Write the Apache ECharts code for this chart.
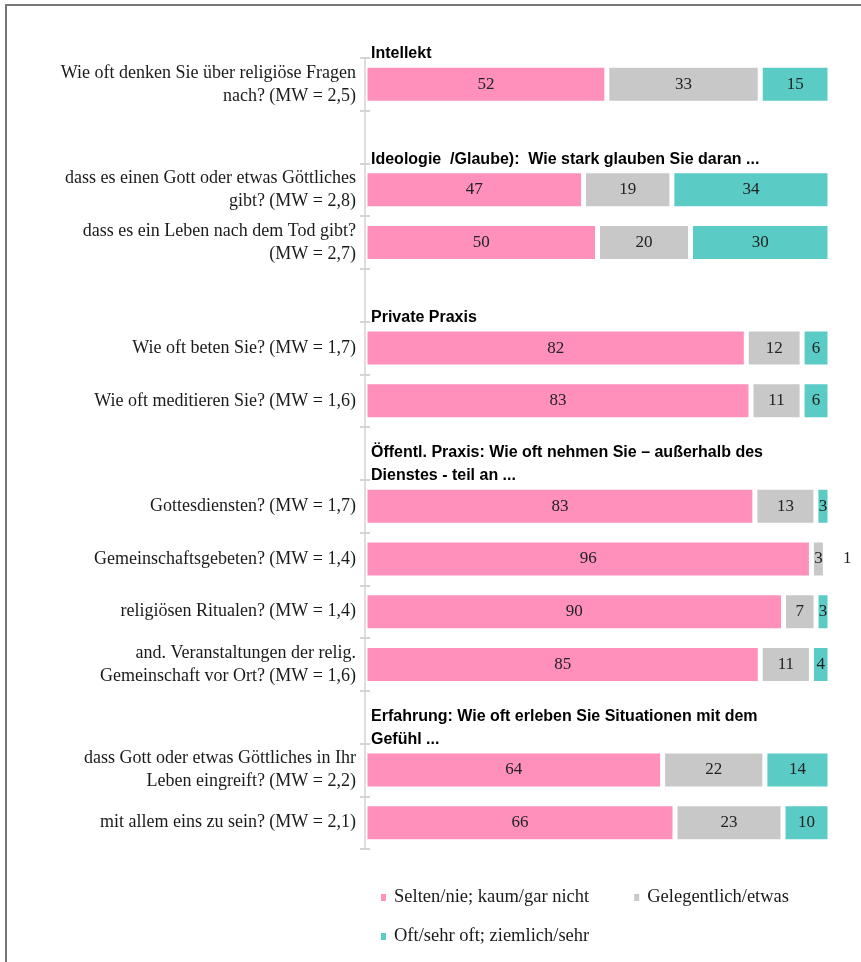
<!DOCTYPE html>
<html>
<head>
<meta charset="utf-8">
<script src="https://cdn.jsdelivr.net/npm/echarts@6/dist/echarts.min.js"></script>
<style>
  html, body { margin: 0; padding: 0; background: #fff; }
  #frame { position: absolute; left: 5px; top: 4px; right: -10px; bottom: -10px;
           border-left: 2px solid #777; border-top: 2px solid #777; pointer-events: none; }
  #chart { position: absolute; left: 0; top: 0; width: 861px; height: 962px; }
</style>
</head>
<body>
<div id="frame"></div>
<div id="chart"></div>
<script>
// Zeilen (leere Zeilen = Abstand vor einer neuen Rubrik)
const categories = [
  'Wie oft denken Sie über religiöse Fragen\nnach? (MW = 2,5)',
  '',
  'dass es einen Gott oder etwas Göttliches\ngibt? (MW = 2,8)',
  'dass es ein Leben nach dem Tod gibt?\n(MW = 2,7)',
  '',
  'Wie oft beten Sie? (MW = 1,7)',
  'Wie oft meditieren Sie? (MW = 1,6)',
  '',
  'Gottesdiensten? (MW = 1,7)',
  'Gemeinschaftsgebeten? (MW = 1,4)',
  'religiösen Ritualen? (MW = 1,4)',
  'and. Veranstaltungen der relig.\nGemeinschaft vor Ort? (MW = 1,6)',
  '',
  'dass Gott oder etwas Göttliches in Ihr\nLeben eingreift? (MW = 2,2)',
  'mit allem eins zu sein? (MW = 2,1)'
]

// Rubrik-Überschriften, jeweils über der ersten Zeile der Rubrik
const headers = [
  'Intellekt',
  '',
  'Ideologie  /Glaube):  Wie stark glauben Sie daran ...',
  '', '',
  'Private Praxis',
  '', '',
  'Öffentl. Praxis: Wie oft nehmen Sie – außerhalb des\nDienstes - teil an ...',
  '', '', '', '',
  'Erfahrung: Wie oft erleben Sie Situationen mit dem\nGefühl ...',
  ''
]

const seriesNames = ['Selten/nie; kaum/gar nicht', 'Gelegentlich/etwas', 'Oft/sehr oft; ziemlich/sehr']
const selten       = [52, null, 47, 50, null, 82, 83, null, 83, 96, 90, 85, null, 64, 66]
const gelegentlich = [33, null, 19, 20, null, 12, 11, null, 13, 3, 7, 11, null, 22, 23]
const oft          = [15, null, 34, 30, null, 6, 6, null, 3, 1, 3, 4, null, 14, 10]

const colors = ['#ff8fbb', '#c8c8c8', '#5bcbc6']
const serif = '"Liberation Serif", "DejaVu Serif", serif'
const sans = '"Liberation Sans", Arial, sans-serif'
const tickColor = '#d4d4d4'

// gerundete Werte ergeben nicht immer 100 -> Balken auf 100 % strecken
const totals = selten.map((v, i) => (v == null ? null : v + gelegentlich[i] + oft[i]))

const chart = echarts.init(document.getElementById('chart'))

const makeBar = (name, values, color) => ({
  name,
  type: 'bar',
  stack: 'total',
  barWidth: 38,
  itemStyle: { color, borderColor: '#fff', borderWidth: 2.5 },
  label: {
    show: true,
    position: 'inside',
    color: '#222',
    fontFamily: serif,
    fontSize: 17,
    formatter: (p) => (values[p.dataIndex] == null ? '' : values[p.dataIndex])
  },
  data: values.map((v, i) => {
    if (v == null) return null
    const share = (v / totals[i]) * 100
    // sehr kleine Anteile: Beschriftung rechts neben dem Balken
    if (v < 2) {
      return { value: share, label: { position: 'right', distance: 13 } }
    }
    return share
  })
})

const legendText = { color: '#1a1a1a', fontFamily: serif, fontSize: 18.5, padding: [0, 0, 0, 2] }

const option = {
  animation: false,
  grid: { left: 365, right: 31, top: 58, bottom: 113 },
  xAxis: { type: 'value', min: 0, max: 100, show: false },
  yAxis: [
    {
      type: 'category',
      inverse: true,
      data: categories,
      z: 5,
      axisLine: { lineStyle: { color: '#dedede', width: 2 } },
      axisTick: { show: true, interval: 0, length: 5, lineStyle: { color: tickColor, width: 2 } },
      axisLabel: {
        interval: 0,
        margin: 9,
        color: '#1a1a1a',
        fontFamily: serif,
        fontSize: 18,
        lineHeight: 23,
        align: 'right'
      }
    },
    {
      // zweite Achse nur für die nach innen zeigenden Striche
      type: 'category',
      inverse: true,
      position: 'left',
      data: categories,
      z: 5,
      axisLine: { show: false },
      axisTick: { show: true, interval: 0, inside: true, length: 5, lineStyle: { color: tickColor, width: 2 } },
      axisLabel: { show: false }
    }
  ],
  legend: [
    {
      data: seriesNames.slice(0, 2),
      left: 374,
      top: 883,
      icon: 'rect',
      itemWidth: 7,
      itemHeight: 9,
      itemGap: 43,
      textStyle: legendText
    },
    {
      data: seriesNames.slice(2),
      left: 374,
      top: 922,
      icon: 'rect',
      itemWidth: 7,
      itemHeight: 9,
      textStyle: legendText
    }
  ],
  series: [
    makeBar(seriesNames[0], selten, colors[0]),
    makeBar(seriesNames[1], gelegentlich, colors[1]),
    makeBar(seriesNames[2], oft, colors[2]),
    {
      // Überschriften als Beschriftung unsichtbarer Punkte am Achsenanfang
      type: 'scatter',
      symbolSize: 0,
      silent: true,
      z: 6,
      itemStyle: { opacity: 1 },
      data: headers.map((h, i) => (h ? { value: [0, i], name: h } : null)).filter(Boolean),
      label: {
        show: true,
        opacity: 1,
        position: 'top',
        distance: 0,
        align: 'left',
        verticalAlign: 'bottom',
        offset: [6, -19],
        color: '#000',
        fontFamily: sans,
        fontWeight: 'bold',
        fontSize: 16,
        lineHeight: 23,
        formatter: (p) => p.name
      }
    }
  ]
}

chart.setOption(option)
</script>
</body>
</html>
